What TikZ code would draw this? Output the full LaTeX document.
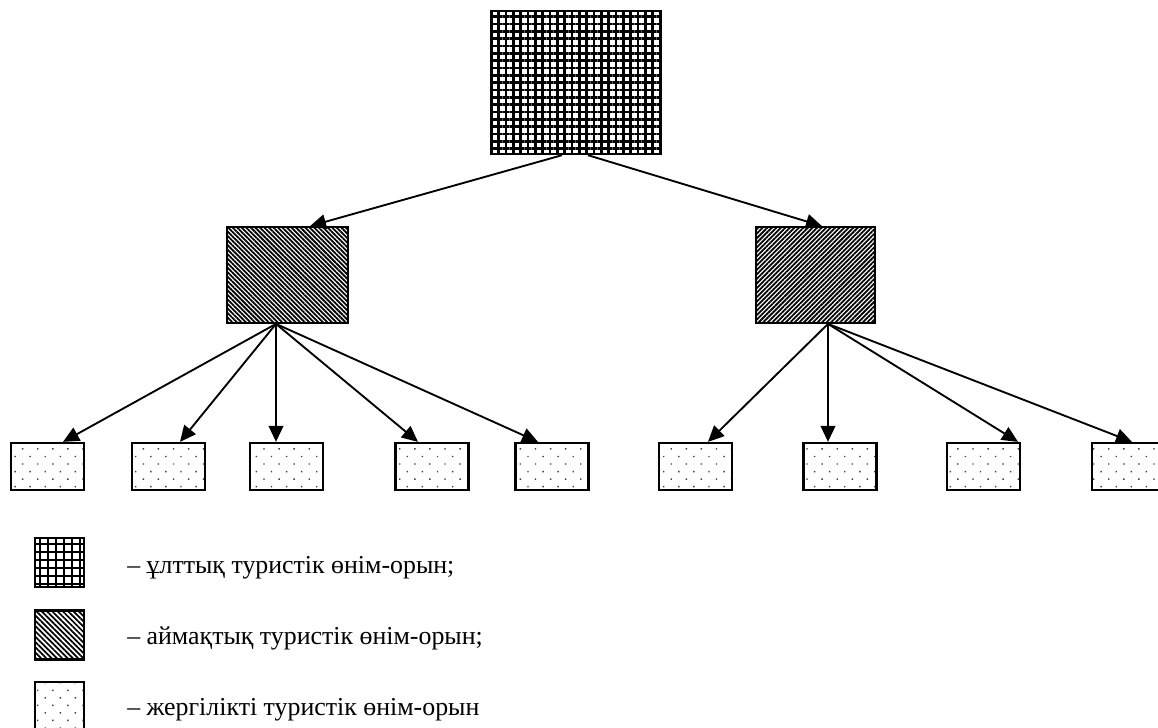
\documentclass[tikz,border=0pt]{standalone}
\usepackage{fontspec}
\setmainfont{Liberation Serif}
\usepackage{tikz}
\usetikzlibrary{positioning,calc,patterns.meta,arrows.meta}

\begin{document}
\begin{tikzpicture}[x=0.75pt,y=-0.75pt,
    box/.style={draw, line width=1.7pt, inner sep=0pt},
    natbox/.style={box, pattern={Hatch[distance=5.5pt,line width=1.8pt]}},
    regleft/.style={box, pattern={Lines[angle=-45,distance=2.4pt,line width=1.35pt]}},
    regright/.style={box, pattern={Lines[angle=45,distance=2.4pt,line width=1.35pt]}},
    locbox/.style={box, pattern={Dots[angle=45,distance=8pt,radius=0.75pt]}, pattern color=black!75},
    link/.style={line width=1.4pt, -{Triangle[length=12pt,width=11pt]}},
    legtext/.style={anchor=base west, inner sep=0pt, font=\fontsize{19.4}{23}\selectfont}]
  \clip (0,0) rectangle (1158,728);

  % national level
  \node[natbox, minimum width=127.5pt, minimum height=107.25pt] (nat) at (576,82.5) {};

  % regional level
  \node[regleft, minimum width=90.75pt, minimum height=72pt] (regA) at (287.5,275) {};
  \node[regright, minimum width=89.25pt, minimum height=72pt] (regB) at (815.5,275) {};

  % local level
  \foreach \i/\x in {1/47.5, 2/168.5, 3/286.5, 4/432, 5/552, 6/695.5, 7/840, 8/983.5, 9/1128.5}
    \node[locbox, minimum width=54.75pt, minimum height=35.25pt] (loc\i) at (\x,466.5) {};

  % links
  \draw[link] ($(nat.south)+(-14,0)$) -- ($(regA.north)+(22.5,0)$);
  \draw[link] ($(nat.south)+(12,0)$) -- ($(regB.north)+(6.5,0)$);
  \foreach \i/\dx in {1/15.5, 2/11.5, 3/-10.5, 4/-14, 5/-14}
    \draw[link] ($(regA.south)+(-11.5,0)$) -- ($(loc\i.north)+(\dx,0)$);
  \foreach \i/\dx in {6/12.5, 7/-12, 8/34.5, 9/3.5}
    \draw[link] ($(regB.south)+(12.5,0)$) -- ($(loc\i.north)+(\dx,0)$);

  % legend
  \node[natbox, minimum size=36.75pt, pattern={Hatch[distance=6pt,line width=1.6pt]}] (keyNat) at (59.5,562.5) {};
  \node[regleft, minimum size=36.75pt, pattern={Lines[angle=-45,distance=2.8pt,line width=1.3pt]}] (keyReg) at (59.5,635) {};
  \node[locbox, minimum size=36.75pt] (keyLoc) at (59.5,706.5) {};
  \node[legtext] (txtNat) at (127,573) {– ұлттық туристік өнім-орын;};
  \node[legtext] (txtReg) at (127,644) {– аймақтық туристік өнім-орын;};
  \node[legtext] (txtLoc) at (127,715) {– жергілікті туристік өнім-орын};
\end{tikzpicture}
\end{document}
